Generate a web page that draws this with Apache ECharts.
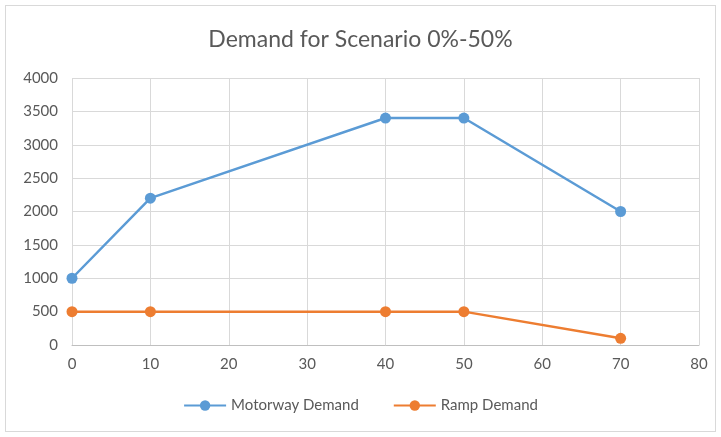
<!DOCTYPE html>
<html>
<head>
<meta charset="utf-8">
<script src="https://cdn.jsdelivr.net/npm/echarts@6/dist/echarts.min.js"></script>
<style>
  html, body { margin: 0; padding: 0; background: #fff; }
  #frame {
    position: absolute; left: 5px; top: 5px; width: 709px; height: 425px;
    border: 1px solid #d9d9d9;
  }
  #chart { position: absolute; left: 0; top: 0; width: 721px; height: 437px; }
</style>
</head>
<body>
<div id="frame"></div>
<div id="chart"></div>
<script>
// 数据
const xValues = [0, 10, 40, 50, 70]
const motorwayDemand = [1000, 2200, 3400, 3400, 2000]
const rampDemand = [500, 500, 500, 500, 100]

const pair = (xs, ys) => xs.map((x, i) => [x, ys[i]])

const chart = echarts.init(document.getElementById('chart'))
const font = 'Lato, "Noto Sans", sans-serif'

const option = {
  animation: false,
  title: {
    text: 'Demand for Scenario 0%-50%',
    left: 'center',
    top: 23,
    textStyle: { fontFamily: font, fontSize: 23, fontWeight: 'normal', color: '#595959' }
  },
  legend: {
    bottom: 19,
    left: 'center',
    itemWidth: 42,
    itemHeight: 13,
    itemGap: 34,
    textStyle: { fontFamily: font, fontSize: 15, color: '#595959' },
    data: ['Motorway Demand', 'Ramp Demand']
  },
  grid: { left: 72, right: 22, top: 78, bottom: 92 },
  xAxis: {
    type: 'value',
    min: 0,
    max: 80,
    interval: 10,
    axisLine: { show: true, lineStyle: { color: '#bfbfbf' } },
    axisTick: { show: false },
    axisLabel: { fontFamily: font, fontSize: 15, color: '#595959', margin: 12 },
    splitLine: { show: true, lineStyle: { color: '#d9d9d9' } }
  },
  yAxis: {
    type: 'value',
    min: 0,
    max: 4000,
    interval: 500,
    axisLine: { show: false },
    axisTick: { show: false },
    axisLabel: {
      fontFamily: font, fontSize: 15, color: '#595959', margin: 14,
      formatter: v => String(v)
    },
    splitLine: { show: true, lineStyle: { color: '#d9d9d9' } }
  },
  series: [
    {
      name: 'Motorway Demand',
      type: 'line',
      data: pair(xValues, motorwayDemand),
      symbol: 'circle',
      symbolSize: 11,
      itemStyle: { color: '#5b9bd5' },
      lineStyle: { color: '#5b9bd5', width: 2.5 }
    },
    {
      name: 'Ramp Demand',
      type: 'line',
      data: pair(xValues, rampDemand),
      symbol: 'circle',
      symbolSize: 11,
      itemStyle: { color: '#ed7d31' },
      lineStyle: { color: '#ed7d31', width: 2.5 }
    }
  ]
}

chart.setOption(option)
</script>
</body>
</html>
